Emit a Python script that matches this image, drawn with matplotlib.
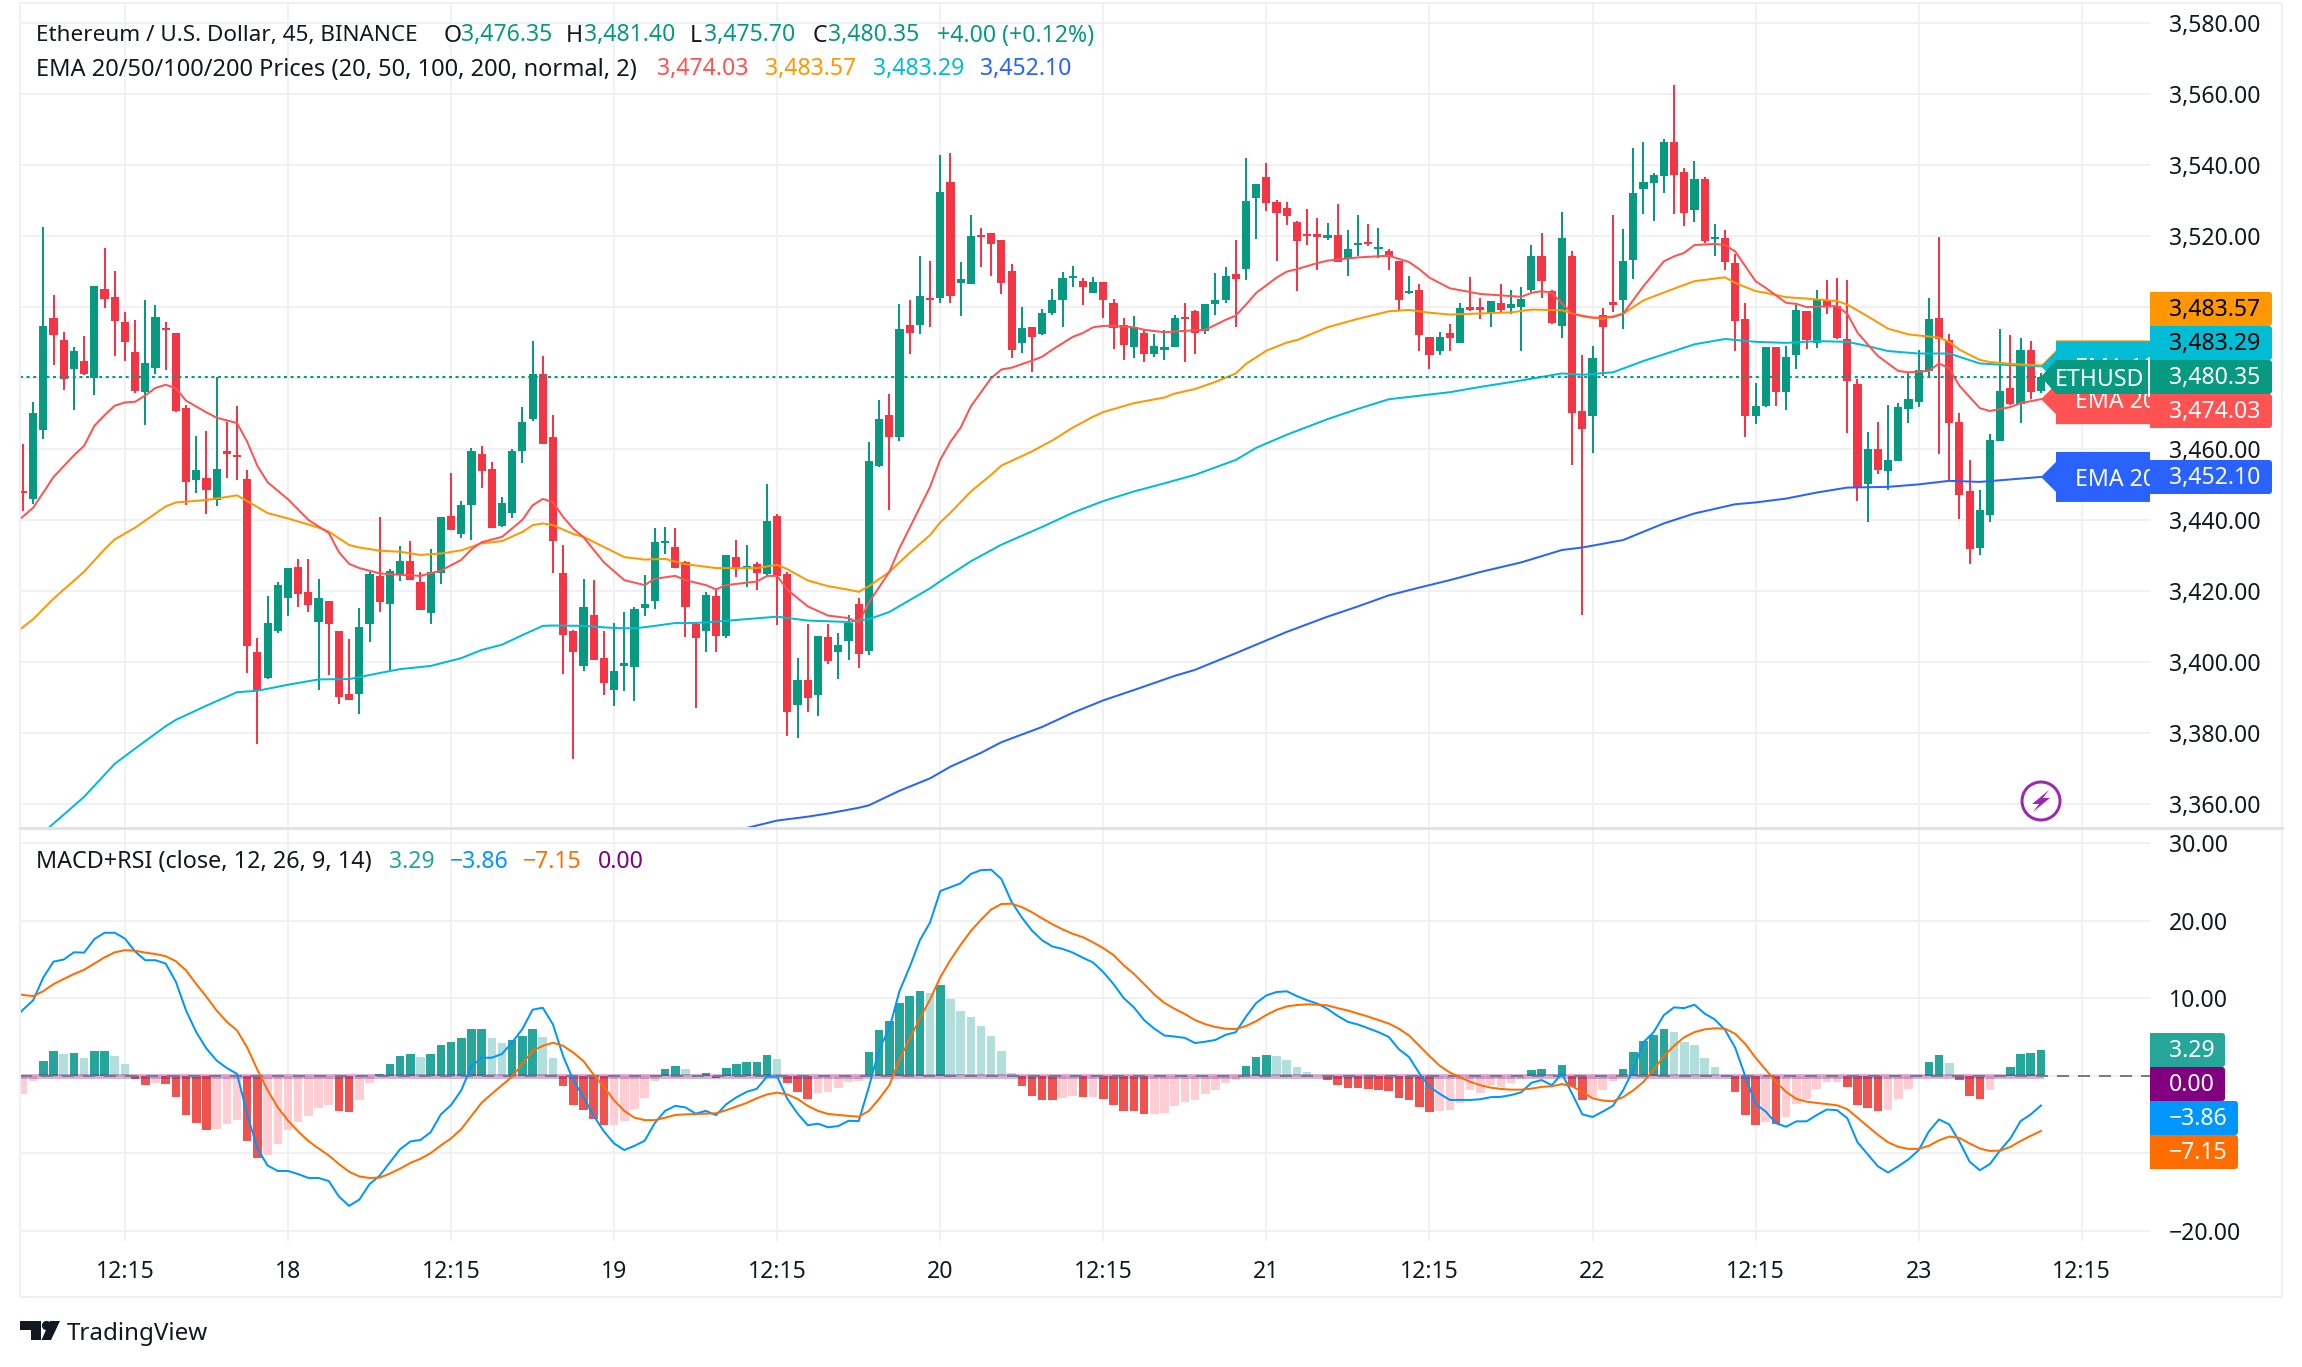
import matplotlib
matplotlib.use("Agg")
import matplotlib.pyplot as plt
from matplotlib.patches import Polygon, Rectangle, Circle, FancyBboxPatch
from matplotlib.transforms import Bbox

FONT = "Noto Sans"
plt.rcParams["font.family"] = [FONT, "DejaVu Sans"]

# ---------- data ----------
opens = [3448.1,3445.8,3465.4,3496.9,3490.7,3482.5,3484.8,3480,3505,3502.9,
3495.8,3487.3,3476,3482.8,3494.2,3492.7,3471.5,3451.2,3451.8,3445.6,
3459.4,3458,3451.5,3402.7,3395.3,3408.6,3418,3426.7,3419.6,3411.3,
3417,3408.6,3391,3391,3410.6,3424.3,3416.3,3424.4,3428.5,3422.5,
3413.8,3425,3441.1,3436,3444.1,3458.6,3454.3,3438.4,3441.9,3459.5,
3468.5,3481.2,3463.3,3424.9,3408.6,3398.8,3413.1,3401,3392,3398.8,
3398.5,3415.1,3417,3433.4,3432.3,3428,3410.7,3408.6,3418.4,3407.2,
3429.4,3426.3,3427.5,3424.8,3441.1,3424.6,3387.9,3394.9,3390.7,3406.9,
3402.7,3405.7,3416.3,3402.9,3455.2,3469.7,3463.5,3495,3494.9,3502.4,
3502.7,3535.2,3506.7,3506.4,3520.3,3520.8,3518.8,3510.1,3489.9,3494.4,
3492.5,3498.3,3501.9,3508.1,3507.3,3503.9,3507.1,3501.1,3494.9,3488.7,
3492.7,3486.7,3487.9,3488.7,3497,3498.8,3493.3,3500.8,3502.1,3509.2,
3510.7,3530.7,3536.7,3529.5,3527.9,3523.9,3520.5,3520.4,3519.5,3520.3,
3513.6,3517.6,3518.3,3516.4,3515.7,3512.9,3503.9,3504.9,3491.5,3487.6,
3492.8,3490,3500,3499.7,3498.4,3501.1,3499.6,3500,3504.7,3514.5,
3504.6,3494.6,3514.4,3470.7,3469.3,3497.7,3501.2,3502.1,3513.3,3533.4,
3535,3537,3546.5,3538.1,3527.3,3536.2,3519.3,3519.5,3512.5,3496.6,
3469.3,3472.1,3488.8,3476.1,3486.5,3498.8,3490,3501.8,3500.3,3490.9,
3478.4,3450,3460.1,3453.7,3456.5,3471.2,3473.2,3482,3496.9,3490.7,
3467.6,3448.2,3432.1,3441.3,3462.2,3477.1,3472.8,3488,3476.35]
closes = [3447.5,3470.1,3494.6,3492.2,3479.8,3487.7,3481.2,3506,3502.3,3496.1,
3490.2,3476.3,3484.2,3497.2,3493.6,3470.6,3450.6,3454.1,3448.3,3454.4,
3458.5,3457.6,3404.5,3391.7,3410.9,3421.6,3426.5,3419.2,3416.1,3418,
3410.6,3390,3389.3,3409.8,3424.6,3416.8,3425.5,3428.5,3423,3414.6,
3425.2,3440.8,3437,3444.3,3459.4,3453.8,3437.6,3444.7,3459.4,3467.6,
3481.2,3461.4,3434,3407.5,3402.7,3415.4,3400.4,3393.9,3397.5,3399.6,
3414.8,3416.3,3433.7,3434,3426.4,3415.4,3406.8,3418.9,3407.2,3430,
3426.4,3426.9,3424.9,3439.6,3424.3,3385.8,3394.7,3389.7,3407.3,3400.3,
3404.7,3411,3402.3,3456.7,3468.3,3463.5,3493.7,3492.8,3503.1,3501.9,
3532.4,3503.1,3507.9,3520,3519.7,3517.9,3506.9,3487.9,3494,3491.6,
3498.3,3502.1,3508.1,3508.7,3505.6,3507.1,3502.1,3494,3489.2,3494.3,
3486.7,3488.9,3488.7,3497,3496.5,3492.8,3500.8,3501.9,3508.7,3508,
3529.9,3534.7,3529.3,3526.4,3525.6,3518.5,3520,3519.9,3520.3,3512.8,
3516.3,3518,3517.7,3516.8,3514,3501.9,3504.4,3492,3486.5,3491.6,
3491.2,3499.6,3499.2,3499.3,3501.6,3499.1,3500.9,3502.3,3514.3,3507.3,
3495.6,3519.5,3470.1,3465.6,3485.7,3494.4,3500.7,3513,3532.2,3535.3,
3537.3,3546.5,3537.3,3526.6,3536.2,3518.5,3519.9,3512.7,3496,3469.3,
3472.1,3488.8,3476.1,3486,3499.1,3490.7,3502.1,3500,3491.3,3479.1,
3449.3,3459.9,3454,3456.8,3471.8,3474.2,3482.3,3496.6,3491,3467.4,
3447,3431.8,3442.9,3462.5,3476.3,3472.6,3488,3476.1,3480.35]
highs = [3461.5,3473.3,3522.6,3503.4,3493,3488.7,3491.9,3506,3516.7,3510.1,
3498.7,3496.4,3502,3500.5,3495.8,3492.7,3472.5,3463.6,3465,3480.3,
3467.7,3472.1,3454,3406.8,3418.6,3422.6,3426.5,3429,3429,3423.4,
3417,3408.7,3406.3,3415,3425.4,3440.8,3426,3432.5,3434,3425.4,
3431.9,3440.8,3453.2,3445.2,3460.4,3460.7,3456.3,3446.5,3460,3471.8,
3490.4,3486.3,3469.5,3432.8,3408.9,3423.4,3423,3408.6,3411,3414,
3415.5,3424.5,3437.8,3438,3437.8,3428.4,3411.3,3419.6,3420.4,3430,
3434.3,3433,3428.2,3450.2,3441.6,3425.4,3401,3410.7,3407.3,3410.7,
3408,3413.3,3418,3462,3473.9,3475.5,3500.8,3502.1,3514.5,3512.9,
3542.8,3543.5,3512.7,3526.1,3522.3,3521,3518.8,3512.1,3499.9,3494.4,
3499.5,3505.2,3510,3511.7,3508.1,3508.4,3507.2,3502.4,3497,3497.6,
3493.9,3492.3,3493.6,3497.9,3501.1,3499.1,3500.8,3509.5,3511.3,3518.8,
3542,3534.7,3540.5,3530.3,3529.6,3524.3,3527.6,3525,3523.7,3529.2,
3521.6,3526.1,3523.3,3522.3,3516.5,3513,3508.7,3506.4,3491.5,3492.9,
3495.2,3501.1,3508.5,3502.7,3501.6,3506.4,3504.9,3505.6,3517.6,3520.8,
3504.7,3526.8,3515.7,3486.6,3489,3499.6,3525.9,3522,3545,3546.5,
3537.7,3547.5,3562.7,3539.1,3541.2,3536.7,3523.4,3521.7,3515,3501.2,
3478.5,3488.8,3488.8,3489,3500.5,3498.8,3504.9,3507.7,3508.2,3507.7,
3479.6,3464.9,3467.6,3472.3,3472.9,3481.3,3488,3502.6,3519.9,3492.5,
3470.1,3456.8,3448.4,3464.2,3493.8,3492.1,3491.4,3490.4,3481.4]
lows = [3442.6,3444.6,3462.7,3483.7,3476.6,3471,3480.9,3475.1,3499.8,3486.1,
3484.9,3475.9,3466.8,3481.2,3482.2,3470.3,3444.1,3447.6,3441.6,3443.8,
3451.7,3451.2,3396.9,3376.8,3395,3408,3413,3415.5,3413.9,3392,
3396.2,3388,3389.3,3385.3,3405.6,3413.9,3397.7,3422.7,3423,3414.6,
3410.7,3421.9,3437,3434.8,3434.4,3449,3437.6,3438,3440.4,3456,
3467.9,3461.4,3424.9,3396.6,3372.5,3397.3,3400.4,3390.6,3387.6,3391.7,
3389,3412.8,3414.8,3430.5,3426.4,3407,3386.8,3402.7,3402.7,3406.8,
3424,3421.2,3420.1,3424.5,3410.3,3379,3378.4,3385.7,3384.7,3399.3,
3395.1,3400.4,3398.3,3402,3454.9,3442.9,3462.1,3486.7,3492.4,3494.3,
3501.1,3501.1,3497.6,3506.4,3511.2,3508.9,3503.6,3485.5,3487.1,3481.6,
3492,3497.7,3494.3,3505.6,3500.5,3503.9,3496.9,3488.3,3485.2,3485.5,
3484.5,3485.9,3485.1,3488.7,3484.4,3486.7,3492.5,3497.9,3501.1,3494.4,
3507.6,3519.3,3527.1,3512.9,3523.1,3504.4,3517.5,3510.4,3518.8,3512.7,
3508.7,3514.3,3517.3,3513.9,3510.4,3499.2,3503.6,3487.6,3482.4,3486.4,
3487.7,3490,3499,3496.5,3494.3,3498.4,3498.1,3487.6,3504.3,3502.7,
3495.3,3491.4,3455.4,3413.3,3458.9,3480.6,3498.6,3493.7,3508,3526.2,
3524.4,3532.2,3526.2,3523,3524.1,3518.1,3514.3,3510.5,3487.6,3463.4,
3467,3471.9,3472.2,3470.9,3482.4,3488.3,3488.6,3498.1,3491.1,3464.5,
3445.3,3439.5,3452.8,3448.4,3456.5,3467.3,3471.8,3480.2,3458.5,3451.2,
3440.2,3427.5,3430,3439.5,3462.2,3472.3,3467.3,3474,3475.7]

ema20_x = [-1,1,3,5,6,7,8,9,10,11,12,13,14,15,16,18,19,21,22,23,24,26,28,30,31,32,33,35,37,39,41,43,44,45,47,49,50,51,52,53,54,55,57,59,61,62,64,65,67,68,69,72,73,74,75,77,79,81,82,83,85,86,89,90,91,92,93,95,96,97,99,100,101,103,104,105,106,107,109,110,112,114,116,118,119,120,121,123,124,125,127,128,131,134,136,137,138,140,143,147,148,149,150,152,154,156,157,159,161,162,163,164,166,167,168,170,171,173,174,175,178,179,180,182,184,185,187,188,189,190,192,193,195,196,198]
ema20_y = [3438.5,3443.4,3452.1,3458.2,3460.9,3466.5,3469.5,3472.2,3473.1,3473.3,3475.1,3477.2,3478.1,3477.1,3473.6,3470.3,3468.8,3467.3,3462,3455.2,3450.6,3445.8,3440,3436.3,3430.9,3427.6,3426.4,3424.9,3424.5,3424.2,3425.7,3428.7,3431.7,3433.7,3435.2,3440,3444.1,3445.9,3445,3440.8,3437.5,3435.1,3428,3423,3421.6,3423.4,3424.2,3423,3421.6,3420.4,3421.6,3422.6,3424.2,3424.2,3420.3,3415.6,3413,3412.3,3411,3416.7,3425.3,3432,3449.3,3457,3462,3466,3472,3480,3482.4,3482.9,3484.9,3486,3488,3491.6,3492.7,3494.3,3494.7,3494.7,3494.3,3493.6,3492.9,3493.3,3493.6,3496.4,3497.6,3500.7,3504,3508.3,3510,3510.7,3512.4,3513.1,3514,3514.5,3512.7,3510.7,3508.3,3505.3,3503.7,3502.9,3504,3504.5,3504,3498.1,3497,3497.2,3498.1,3505.9,3512.9,3514.3,3515.3,3517.5,3517.8,3517.5,3515.7,3507.3,3505.4,3501.2,3500.9,3500,3500.3,3498.1,3492.8,3486.2,3482,3481.6,3482,3484.1,3482.7,3477.8,3471.5,3470.7,3471.8,3472.9,3474.03]

ema50_x = [-1,1,3,6,8,9,11,12,14,15,18,21,22,24,26,29,30,32,33,35,37,39,41,43,45,47,49,50,51,52,54,55,59,61,63,65,68,72,74,75,77,79,81,82,83,85,87,89,90,91,93,95,96,99,101,103,105,106,109,112,113,115,117,119,120,122,124,125,128,131,134,136,138,140,144,146,148,151,153,155,157,159,162,164,167,168,170,171,173,175,178,179,181,183,185,188,189,190,192,193,196,198]
ema50_y = [3407.5,3412,3417.8,3425.4,3431.7,3434.5,3437.8,3439.8,3443.8,3444.9,3445.6,3446.9,3445.3,3441.9,3440.4,3437.8,3436.7,3432.9,3432.2,3431.3,3431,3430.1,3430.5,3431.4,3433.4,3434,3436.6,3438.5,3439,3438.5,3436,3435.2,3429.5,3428.8,3429,3427.5,3426.4,3426.4,3427.3,3426.1,3422.9,3421.3,3420.3,3419.7,3421.3,3425.3,3430.7,3435.7,3439.3,3442,3448,3452.7,3455.3,3459.3,3462.4,3466,3469.1,3470.4,3472.9,3474.5,3475.6,3476.9,3478.9,3481.3,3484,3487.7,3490,3490.7,3494.3,3496.7,3498.8,3499.2,3498.4,3497.9,3498.3,3498.5,3499.3,3499.1,3497.4,3496.7,3498.1,3501.9,3505.2,3507.3,3508.4,3506.8,3504.5,3504,3502.8,3502.4,3501.7,3500.7,3497.4,3493.9,3492.3,3491.4,3490.2,3488,3485.1,3484.5,3483.8,3483.57]

ema100_x = [-1,2.5,6,9,11,14,15,18,21,23,26,29,32,35,37,40,43,45,47,49,51,52,55,58,60,62,64,66,68,71,74,77,81,83,85,89,90,93,96,100,103,106,109,112,115,119,121,124,128,131,134,137,140,143,147,151,153,156,159,162,164,167,170,173,176,179,181,183,186,189,192,195,198]
ema100_y = [3346,3353.1,3361.9,3371.2,3375.5,3381.8,3383.6,3387.6,3391.4,3391.8,3393.5,3395,3395.1,3396.8,3397.9,3398.8,3401,3403.3,3404.8,3407.5,3410.1,3410.2,3410.1,3409.5,3409.4,3410.1,3410.9,3410.9,3411.3,3412,3412.7,3411.6,3411.2,3412,3414,3420.7,3422.7,3428.3,3433,3438,3442,3445.3,3448,3450.3,3452.7,3456.9,3460.3,3464,3468.4,3471.3,3474,3475,3476,3477.5,3479.3,3481.3,3480.9,3481.6,3484.8,3487.6,3489.5,3491,3490.2,3489.9,3490.4,3490.2,3489,3487.6,3486.9,3486.9,3484.1,3483.6,3483.29]

ema200_x = [71,74,77,79,82,83,86,89,91,94,96,100,103,106,109,113,115,119,122,124,128,131,134,137,140,143,147,151,153,157,161,164,168,170,173,176,179,183,186,189,192,195,198]
ema200_y = [3353.1,3355.2,3356.3,3357.2,3358.8,3359.5,3363.6,3367.1,3370.4,3374.3,3377.3,3381.6,3385.6,3389.1,3392,3396,3397.7,3402.4,3406,3408.4,3412.7,3415.6,3418.7,3420.9,3423,3425.3,3428,3431.5,3432.2,3434.3,3439,3441.8,3444.4,3444.9,3446,3447.7,3449.1,3449.3,3450,3451,3450.7,3451.4,3452.1]

hist = [-2.34,-0.7,1.86,3.18,2.83,2.92,2.25,3.18,3.18,2.52,
1.5,-0.44,-1.24,-0.97,-1.1,-2.78,-5.08,-6.14,-7.02,-6.89,
-6.23,-5.74,-8.44,-10.64,-10.25,-8.83,-7.02,-6,-5.2,-4.2,
-3.8,-4.55,-4.68,-3.14,-0.97,0.22,1.5,2.52,2.78,2.39,
2.78,3.93,4.33,4.86,6,6,4.86,4.2,4.6,5.08,
6,5,2.25,-1.37,-3.8,-4.46,-5.6,-6.36,-6.36,-5.87,
-4.33,-2.92,-0.7,0.84,1.24,0.84,0.1,0.35,-0.31,0.97,
1.5,1.77,1.77,2.65,2.12,-0.97,-2.12,-3,-2.25,-2.12,
-1.59,-0.84,-0.7,3.05,5.87,7.02,9.36,10.25,10.91,10.64,
11.66,9.89,8.3,7.55,6.4,5.08,3.18,0.31,-1.37,-2.65,
-3.14,-3.14,-2.92,-2.65,-2.78,-2.78,-3,-3.8,-4.55,-4.55,
-4.95,-4.95,-4.8,-3.93,-3.4,-3.14,-2.39,-1.9,-0.97,-0.57,
1.24,2.39,2.65,2.52,1.99,1.1,0.44,-0.1,-0.57,-1.24,
-1.59,-1.59,-1.72,-1.9,-2,-2.92,-3.14,-4.06,-4.68,-4.55,
-4.46,-3.53,-1.9,-2.25,-1.24,-1.46,-0.97,-0.44,0.7,0.84,
0.2,1.37,-1.46,-3.14,-2.78,-1.86,-0.7,0.84,3.05,4.46,
5.2,6,5.6,4.33,3.93,2.25,1.1,-0.18,-2.12,-5.08,
-6.36,-6,-6.18,-5.34,-3.67,-3,-1.72,-0.84,-0.84,-1.46,
-3.8,-4.2,-4.55,-4.46,-3,-1.72,-0.2,1.77,2.65,1.63,
-0.57,-2.65,-3,-1.86,0.05,1.1,2.78,2.92,3.29]
hist_codes = ("ppgglglggl" "lrrprrrrrp" "pprrpppppp" "prrppggggl" "ggggggllgg"
              "gllrrrrrpp" "pppggllgrg" "gggglrrrpp" "pppggggggl" "glllllllrr"
              "rrpprprrrr" "rppppppppp" "gggllllprr" "rrrrrrrrrp" "ppppppppgg"
              "lgrrpppggg" "gglllllrrr" "rprppppppr" "rrrppppggl" "rrrplgggg")

macd = [7.1,8.5,9.72,12.68,14.7,14.97,15.9,15.86,17.6,18.42,18.42,
17.67,16,14.88,14.88,14.44,12.1,8.39,5.6,3.49,1.94,
0.97,0.22,-5,-9.4,-11.6,-12.3,-12.3,-12.7,-13.2,-13.2,
-13.6,-15.6,-16.8,-16,-14,-12.9,-11.2,-9.5,-8.5,-8.3,
-7.3,-5,-3.8,-1.9,1.2,2.3,2.3,2.8,4.3,6,
8.5,8.75,6.6,2.5,-0.6,-2.8,-5.2,-7.2,-8.75,-9.6,
-9.05,-8.4,-6.1,-4.55,-3.9,-4.1,-4.9,-4.55,-5.1,-3.7,
-2.8,-2.1,-1.7,-0.13,-0.13,-3,-4.9,-6.4,-6.2,-6.67,
-6.5,-5.83,-5.87,-1.46,3.4,6.05,10.9,14,17.45,19.75,
23.8,24.3,24.8,26,26.5,26.55,25.35,22.4,20.4,18.7,
17.45,16.65,16.34,15.86,15.2,14.58,13.34,11.8,10,8.8,
7.16,6.05,5.17,5.04,4.86,4.2,4.37,4.6,5.26,5.6,
7.6,9.36,10.34,10.78,10.87,10.25,9.72,9.28,8.6,7.69,
6.93,6.58,6.1,5.6,5,3.4,2.39,0.31,-1.46,-2.34,
-3.14,-3.14,-3.14,-3.05,-2.78,-2.74,-2.52,-2.16,-0.93,-0.57,
-1.24,0.26,-2.34,-5,-5.34,-4.64,-3.9,-1.9,0.75,4.3,
5.6,7.8,8.8,8.7,9.14,8,7.24,5.9,3.6,-0.13,
-3.67,-4.64,-6.14,-6.6,-5.9,-5.9,-5.08,-4.37,-4.46,-5.5,
-8.6,-10.16,-11.7,-12.5,-11.7,-10.8,-9.63,-7.2,-5.65,-6.3,
-8.5,-11.1,-12.2,-11.4,-9.63,-8.1,-5.87,-5,-3.86]
signal = [10.6,10.4,10.25,10.9,11.8,12.46,13.1,13.65,14.44,15.24,15.9,
16.17,16.1,15.86,15.68,15.4,14.75,13.56,11.8,10.16,8.39,
6.93,5.83,3.62,0.75,-1.9,-4.1,-5.8,-7.2,-8.44,-9.4,
-10.3,-11.4,-12.4,-13,-13.2,-13.16,-12.63,-12,-11.26,-10.73,
-10,-9,-8.1,-6.9,-5.2,-3.5,-2.34,-1.24,-0.13,1.55,
3.18,3.84,4.24,3.84,2.96,1.86,0.09,-1.46,-3.2,-4.55,
-5.43,-5.74,-5.74,-5.43,-5.08,-5,-4.95,-4.9,-4.86,-4.46,
-4,-3.53,-2.92,-2.43,-2.2,-2.43,-3,-3.9,-4.55,-4.95,
-5.08,-5.2,-5.3,-4.55,-3,-1.24,2.08,4.73,7.38,9.8,
12.68,14.9,16.87,18.64,20.1,21.42,22.13,22.17,21.73,21.07,
20.27,19.52,18.86,18.29,17.85,17.18,16.43,15.55,14.22,13.12,
11.8,10.47,9.36,8.6,7.95,7.16,6.63,6.27,6.05,6,
6.4,7.02,7.82,8.48,8.92,9.1,9.19,9.14,9.05,8.7,
8.39,8,7.6,7.16,6.72,6.05,5.17,3.84,2.52,1.28,
0.4,-0.22,-0.8,-1.24,-1.55,-1.72,-1.81,-1.81,-1.68,-1.46,
-1.37,-1.1,-1.37,-2.12,-2.92,-3.22,-3.31,-2.78,-1.9,-0.8,
0.75,2.52,3.84,4.95,5.6,5.96,6.1,6.05,5.39,4.06,
2.3,0.75,-0.8,-2.12,-3,-3.36,-3.53,-3.67,-3.84,-4.33,
-5.43,-6.54,-7.64,-8.6,-9.19,-9.45,-9.45,-9.05,-8.35,-7.86,
-8.04,-8.75,-9.4,-9.72,-9.67,-9.19,-8.44,-7.77,-7.15]

price_ticks = [3360,3380,3400,3420,3440,3460,3480,3500,3520,3540,3560,3580]
price_hidden = [3480, 3500]     # covered by the value tags in the reference
macd_ticks = [-20,-10,0,10,20,30]
macd_hidden = [-10, 0]          # covered by the value tags in the reference
time_tick_bars = [10,26,42,58,74,90,106,122,138,154,170,186,202]
time_tick_labels = ["12:15","18","12:15","19","12:15","20","12:15","21","12:15","22","12:15","23","12:15"]
last_price = 3480.35

# ---------- style ----------
UP, DOWN = "#089981", "#F23645"
C20, C50, C100, C200 = "#FF5252", "#FF9800", "#00BCD4", "#2962FF"
GRID = "#F0F1F5"
TXT = "#131722"
HCOL = {"g": "#26A69A", "l": "#B2DFDB", "p": "#FFCDD2", "r": "#EF5350"}
CMACD, CSIG, CRSI = "#0096FF", "#FF6D00", "#800080"
W, H = 2302, 1367
FS = 16.6
px = 0.72  # 1 px in points at dpi 100

fig = plt.figure(figsize=(W/100, H/100), dpi=100, facecolor="white")

def axes_px(l, t, r, b, **kw):
    return fig.add_axes([l/W, 1-b/H, (r-l)/W, (b-t)/H], **kw)

ax = axes_px(20, 3, 2150, 828)
sub = axes_px(20, 828, 2150, 1241)
XLIM = (-0.294, 208.7)
YLIM = (3353.1, 3585.75)
for a in (ax, sub):
    a.set_xlim(*XLIM)
    for s in a.spines.values():
        s.set_visible(False)
    a.yaxis.tick_right()
    a.tick_params(axis="y", length=0, pad=19*px, labelsize=FS, labelcolor=TXT)
    a.set_xticks(time_tick_bars)
    a.grid(True, color=GRID, lw=2*px, zorder=0)
    a.set_axisbelow(True)
ax.set_ylim(*YLIM)
sub.set_ylim(-21.33, 31.93)
ax.set_yticks(price_ticks)
ax.set_yticklabels(["" if v in price_hidden else f"{v:,.2f}" for v in price_ticks])
sub.set_yticks(macd_ticks)
sub.set_yticklabels(["" if v in macd_hidden else f"{v:.2f}".replace("-", "\u2212") for v in macd_ticks])
ax.tick_params(axis="x", length=0, labelbottom=False)
sub.tick_params(axis="x", length=0, pad=19*px, labelsize=FS, labelcolor=TXT)
sub.set_xticklabels(time_tick_labels)
for t in sub.get_xticklabels():
    if t.get_text() == "22":
        t.set_fontweight("bold")

# candles
bars = range(len(opens))
colors = [UP if c >= o else DOWN for o, c in zip(opens, closes)]
ax.vlines(bars, lows, highs, colors=colors, lw=2*px, zorder=3)
ax.bar(bars, [max(abs(c-o), 0.6) for o, c in zip(opens, closes)],
       bottom=[min(o, c) for o, c in zip(opens, closes)],
       width=0.8, color=colors, lw=0, zorder=4)
# EMAs
ax.plot(ema200_x, ema200_y, color=C200, lw=2*px, zorder=5)
ax.plot(ema100_x, ema100_y, color=C100, lw=2*px, zorder=5)
ax.plot(ema50_x, ema50_y, color=C50, lw=2*px, zorder=5)
ax.plot(ema20_x, ema20_y, color=C20, lw=2*px, zorder=5)
ax.axhline(last_price, color=UP, lw=2*px, ls=(0, (1.5, 1.8)), zorder=6)

# MACD pane
sub.bar(range(len(hist)), hist, width=0.84, color=[HCOL[c] for c in hist_codes], lw=0, zorder=3)
sub.plot([0, len(hist)-1], [0, 0], color=CRSI, alpha=0.3, lw=5*px, zorder=4)
sub.axhline(0, color="#787B86", lw=2*px, ls=(0, (6, 4.5)), zorder=4)
sub.plot(range(-1, len(macd)-1), macd, color=CMACD, lw=2*px, zorder=5)
sub.plot(range(-1, len(signal)-1), signal, color=CSIG, lw=2*px, zorder=5)

# ---------- overlay (labels, tags, chrome), in pixels ----------
ov = fig.add_axes([0, 0, 1, 1], zorder=10)
ov.set_xlim(0, W); ov.set_ylim(H, 0); ov.axis("off")
ov.patch.set_alpha(0)

FR = "#EEF0F5"
ov.plot([20, 2282, 2282, 20, 20], [3, 3, 1297, 1297, 3], color=FR, lw=2*px)
ov.plot([20, 2282], [828, 828], color="#E0E3EB", lw=3*px)

def txt(x, y, s, color=TXT, size=FS, **kw):
    return ov.text(x, y, s, color=color, fontsize=size, va="center", ha=kw.pop("ha", "left"), **kw)

y1, y2 = 35.5, 69.5
txt(36, y1, "Ethereum / U.S. Dollar, 45, BINANCE", size=16.2)
for x, s in [(444, "O"), (566, "H"), (690, "L"), (813, "C")]:
    txt(x, y1, s)
for x, s in [(461, "3,476.35"), (584, "3,481.40"), (704, "3,475.70"), (828, "3,480.35"), (937, "+4.00 (+0.12%)")]:
    txt(x, y1, s, color=UP)
txt(36, y2, "EMA 20/50/100/200 Prices (20, 50, 100, 200, normal, 2)", size=17.0)
for x, s, c in [(657, "3,474.03", C20), (765, "3,483.57", C50), (873, "3,483.29", C100), (980, "3,452.10", C200)]:
    txt(x, y2, s, color=c)
y3 = 862
txt(36, y3, "MACD+RSI (close, 12, 26, 9, 14)", size=16.8)
for x, s, c in [(389, "3.29", "#26A69A"), (450, "\u22123.86", CMACD), (523, "\u22127.15", CSIG), (598, "0.00", CRSI)]:
    txt(x, y3, s, color=c)

def price_y(p):
    return 3 + (YLIM[1]-p) / (YLIM[1]-YLIM[0]) * 825

tag_clip = Bbox.from_extents(0, 0, 2150, H)
def bubble(p, color, label, z):
    yc = price_y(p)
    t, b = yc-25, yc+25
    ov.add_patch(Polygon([(2041, yc), (2056, yc-15), (2056, t), (2150, t), (2150, b), (2056, b), (2056, yc+15)],
                         closed=True, fc=color, ec="none", zorder=z))
    if label:
        tt = txt(2075, yc+3, label, color="white", zorder=z)
        tt.set_clip_box(tag_clip)
        tt.set_clip_on(True)

bubble(3483.57, C50, "", 3)
bubble(3483.29, C100, "EMA 100", 4)
bubble(3474.03, C20, "EMA 20", 5)
bubble(3452.10, C200, "EMA 200", 6)

yc = price_y(last_price)
ov.add_patch(Polygon([(2041, yc), (2056, 360), (2149, 360), (2149, 394), (2056, 394)], closed=True, fc=UP, ec="none", zorder=7))
ov.plot([2149, 2149], [358, 396], color="white", lw=2*px, zorder=7)
txt(2055, 379.5, "ETHUSD", color="white", zorder=8)

def tag(t, b, r, color, label, tc="white", z=9):
    rad = 3
    ov.add_patch(FancyBboxPatch((2150+rad, t+rad), r-2150-2*rad, b-t-2*rad,
                                boxstyle=f"round,pad={rad},rounding_size={rad}", fc=color, ec="none", zorder=z))
    ov.add_patch(Rectangle((2150, t), 20, b-t, fc=color, ec="none", zorder=z))
    txt(2169, (t+b)/2+1, label, color=tc, zorder=z+1)

tag(292, 326, 2272, C50, "3,483.57", tc="#000000")
tag(326, 360, 2272, C100, "3,483.29", tc="#000000")
tag(360, 394, 2272, UP, "3,480.35")
tag(394, 428, 2272, C20, "3,474.03")
tag(460, 494, 2272, C200, "3,452.10")
tag(1033, 1067, 2225, "#26A69A", "3.29")
tag(1067, 1101, 2225, CRSI, "0.00")
tag(1101, 1135, 2238, CMACD, "\u22123.86")
tag(1135, 1169, 2238, CSIG, "\u22127.15")

# lightning badge
ov.add_patch(Circle((2041, 801), 19, fc="white", ec="#9C27B0", lw=3*px, zorder=6))
ov.add_patch(Polygon([(2049, 790), (2032, 804), (2039, 804), (2033, 812), (2050, 798), (2043, 798)],
                     closed=True, fc="#9C27B0", ec="none", zorder=7))

# TradingView logo
LOGO = "#131722"
ov.add_patch(Polygon([(20, 1321), (41, 1321), (41, 1340), (31, 1340), (31, 1330), (20, 1330)], closed=True, fc=LOGO, ec="none"))
ov.add_patch(Circle((46.5, 1325.5), 4.6, fc=LOGO, ec="none"))
ov.add_patch(Polygon([(50, 1321), (60, 1321), (51, 1340), (41.5, 1340)], closed=True, fc=LOGO, ec="none"))
txt(67, 1334, "TradingView", size=17.4)

fig.savefig("out.png", dpi=100, facecolor="white")
